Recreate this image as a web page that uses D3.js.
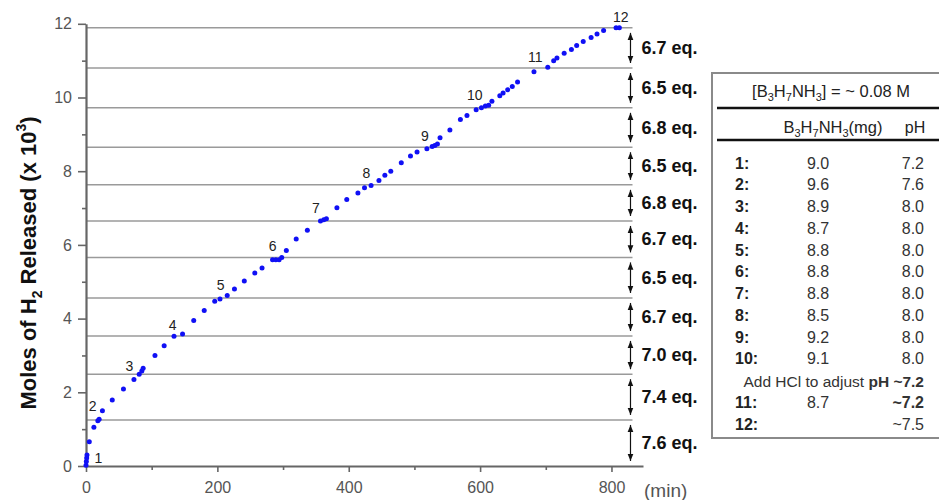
<!DOCTYPE html>
<html lang="en">
<head>
<meta charset="utf-8">
<title>H2 release</title>
<script src="https://cdnjs.cloudflare.com/ajax/libs/d3/7.8.5/d3.min.js"></script>
<style>
  body { margin: 0; background: #fff; }
  svg { font-family: Arial, "Liberation Sans", sans-serif; }
</style>
</head>
<body>
<div id="chart"></div>
<script>
// data
const times = [0, 0.5, 1, 1.5, 5, 12, 18, 20, 25, 40, 57, 73, 81, 85, 87, 105, 119, 134, 147, 164, 180, 196, 204, 215, 226, 241, 257, 268,
  284, 289, 294, 298, 305, 320, 337, 357, 362, 366, 382, 397, 414, 424, 434, 446, 455, 464, 480, 494, 504, 519, 527, 531, 535, 539,
  554, 570, 580, 594, 602, 608, 613, 618, 630, 635, 642, 649, 657, 682, 703, 712, 717, 728, 739, 747, 757, 769, 778, 788, 807, 812];
const moles = [0.02, 0.12, 0.22, 0.3, 0.66, 1.05, 1.23, 1.27, 1.5, 1.79, 2.09, 2.35, 2.49, 2.58, 2.65, 3.0, 3.26, 3.52, 3.58, 3.95, 4.22, 4.47, 4.53, 4.63, 4.8, 5.02, 5.24, 5.37,
  5.6, 5.6, 5.6, 5.66, 5.85, 6.16, 6.4, 6.65, 6.68, 6.71, 7.01, 7.23, 7.41, 7.55, 7.61, 7.75, 7.89, 8.0, 8.23, 8.41, 8.52, 8.61, 8.67, 8.7, 8.74, 8.91,
  9.12, 9.4, 9.51, 9.67, 9.72, 9.77, 9.79, 9.9, 10.05, 10.12, 10.21, 10.3, 10.42, 10.7, 10.82, 11.0, 11.07, 11.2, 11.3, 11.41, 11.52, 11.63, 11.72, 11.82, 11.89, 11.89];

// injection numbers placed near the curve
const injNames = ["1", "2", "3", "4", "5", "6", "7", "8", "9", "10", "11", "12"];
const injT = [19, 10, 66, 132, 205, 284, 350, 427, 516, 592, 684, 814];
const injV = [0.21, 1.64, 2.72, 3.83, 4.91, 5.97, 6.99, 7.94, 8.96, 10.07, 11.11, 12.19];

// horizontal levels and equivalents between them
const levels = [0, 1.25, 2.49, 3.53, 4.56, 5.66, 6.65, 7.63, 8.65, 9.72, 10.8, 11.89];
const eqLabels = ["7.6", "7.4", "7.0", "6.7", "6.5", "6.7", "6.8", "6.5", "6.8", "6.5", "6.7"];

const xTicks = [0, 200, 400, 600, 800];
const xMinor = [100, 300, 500, 700];
const yTicks = [0, 2, 4, 6, 8, 10, 12];
const yMinor = [1, 3, 5, 7, 9, 11];

// table
const runs = ["1:", "2:", "3:", "4:", "5:", "6:", "7:", "8:", "9:", "10:", "11:", "12:"];
const mg = ["9.0", "9.6", "8.9", "8.7", "8.8", "8.8", "8.8", "8.5", "9.2", "9.1", "8.7", ""];
const ph = ["7.2", "7.6", "8.0", "8.0", "8.0", "8.0", "8.0", "8.0", "8.0", "8.0", "~7.2", "~7.5"];

const width = 939, height = 500;
const svg = d3.select("#chart").append("svg")
  .attr("width", width).attr("height", height);

const x = d3.scaleLinear().domain([0, 848]).range([86, 643]);
const y = d3.scaleLinear().domain([0, 12]).range([466, 23.8]);
const gridEnd = 832;

// arrow heads
const defs = svg.append("defs");
defs.append("marker").attr("id", "head")
  .attr("viewBox", "0 0 10 10").attr("refX", 10).attr("refY", 5)
  .attr("markerWidth", 6).attr("markerHeight", 6).attr("orient", "auto-start-reverse")
  .append("path").attr("d", "M0,1 L10,5 L0,9 Z").attr("fill", "#111");

// grid lines at each level
svg.append("g").selectAll("line")
  .data(levels.slice(1))
  .join("line")
    .attr("x1", x(0)).attr("x2", x(gridEnd))
    .attr("y1", d => y(d)).attr("y2", d => y(d))
    .attr("stroke", "#9a9a9a").attr("stroke-width", 1.5);

// axes
svg.append("g").attr("transform", `translate(0,${y(0)})`)
  .call(d3.axisBottom(x).tickValues(xTicks).tickSize(6).tickSizeOuter(0).tickPadding(10));
svg.append("g").attr("transform", `translate(0,${y(0)})`)
  .call(d3.axisBottom(x).tickValues(xMinor).tickSize(4).tickSizeOuter(0).tickFormat(""))
  .select(".domain").remove();

svg.append("g").attr("transform", `translate(${x(0)},0)`)
  .call(d3.axisLeft(y).tickValues(yTicks).tickSize(8).tickSizeOuter(0).tickPadding(6));
svg.append("g").attr("transform", `translate(${x(0)},0)`)
  .call(d3.axisLeft(y).tickValues(yMinor).tickSize(4).tickSizeOuter(0).tickFormat(""))
  .select(".domain").remove();

svg.selectAll(".domain").attr("stroke", "#666").attr("stroke-width", 2.2);
svg.selectAll(".tick line").attr("stroke", "#666").attr("stroke-width", 1.6);
svg.selectAll(".tick text").attr("fill", "#555").style("font-size", "16px");

svg.append("text")
  .attr("x", 644).attr("y", y(0) + 31)
  .attr("fill", "#555").style("font-size", "19px")
  .text("(min)");

// y title
const yt = svg.append("text")
  .attr("transform", "translate(36,263) rotate(-90)")
  .attr("text-anchor", "middle")
  .style("font-size", "22px").style("font-weight", "bold").attr("fill", "#111");
yt.append("tspan").text("Moles of H");
yt.append("tspan").attr("dy", 6).style("font-size", "14px").text("2");
yt.append("tspan").attr("dy", -6).text(" Released (x 10");
yt.append("tspan").attr("dy", -10).style("font-size", "14px").text("3");
yt.append("tspan").attr("dy", 10).text(")");

// points
svg.append("g").selectAll("circle")
  .data(times.map((t, i) => ({ t: t, v: moles[i] })))
  .join("circle")
    .attr("cx", d => x(d.t)).attr("cy", d => y(d.v))
    .attr("r", 2.5).attr("fill", "#1010f5");

// injection numbers
svg.append("g").selectAll("text")
  .data(injNames)
  .join("text")
    .attr("x", (d, i) => x(injT[i])).attr("y", (d, i) => y(injV[i]))
    .attr("text-anchor", "middle").attr("dominant-baseline", "central")
    .style("font-size", "14px").attr("fill", "#222")
    .text(d => d);

// arrows + equivalents
const eq = svg.append("g").selectAll("g")
  .data(eqLabels)
  .join("g");
eq.append("line")
  .attr("x1", x(gridEnd) - 2).attr("x2", x(gridEnd) - 2)
  .attr("y1", (d, i) => y(levels[i]) - 5).attr("y2", (d, i) => y(levels[i + 1]) + 5)
  .attr("stroke", "#111").attr("stroke-width", 1.2)
  .attr("marker-start", "url(#head)").attr("marker-end", "url(#head)");
eq.append("text")
  .attr("x", x(gridEnd) + 9)
  .attr("y", (d, i) => (y(levels[i]) + y(levels[i + 1])) / 2)
  .attr("dominant-baseline", "central")
  .style("font-size", "18px").style("font-weight", "bold").attr("fill", "#111")
  .text(d => d + " eq.");

// table box
const tb = svg.append("g");
tb.append("rect")
  .attr("x", 712).attr("y", 73).attr("width", 240).attr("height", 365)
  .attr("fill", "#fff").attr("stroke", "#8a8a8a").attr("stroke-width", 2);

function formula(sel, tail) {
  sel.append("tspan").text("B");
  sel.append("tspan").attr("dy", 4).style("font-size", "11px").text("3");
  sel.append("tspan").attr("dy", -4).text("H");
  sel.append("tspan").attr("dy", 4).style("font-size", "11px").text("7");
  sel.append("tspan").attr("dy", -4).text("NH");
  sel.append("tspan").attr("dy", 4).style("font-size", "11px").text("3");
  sel.append("tspan").attr("dy", -4).text(tail);
}

const title = tb.append("text")
  .attr("x", 831).attr("y", 97).attr("text-anchor", "middle")
  .style("font-size", "16.5px").attr("fill", "#222");
title.append("tspan").text("[");
formula(title, "] = ~ 0.08 M");

tb.append("line").attr("x1", 717).attr("x2", 939).attr("y1", 108).attr("y2", 108)
  .attr("stroke", "#111").attr("stroke-width", 2.5);

const head = tb.append("text")
  .attr("x", 833).attr("y", 133).attr("text-anchor", "middle")
  .style("font-size", "16.5px").attr("fill", "#222");
formula(head, "(mg)");
tb.append("text").attr("x", 915).attr("y", 133).attr("text-anchor", "middle")
  .style("font-size", "16px").attr("fill", "#222").text("pH");

tb.append("line").attr("x1", 717).attr("x2", 939).attr("y1", 140).attr("y2", 140)
  .attr("stroke", "#111").attr("stroke-width", 2.5);

const rowY = d3.scalePoint().domain(d3.range(13)).range([163, 424]);
const rowIdx = runs.map((r, i) => i < 10 ? i : i + 1);

const rows = tb.append("g").selectAll("g")
  .data(runs)
  .join("g")
    .attr("transform", (d, i) => `translate(0,${rowY(rowIdx[i])})`);
rows.append("text").attr("x", 735).attr("dominant-baseline", "central")
  .style("font-size", "16px").style("font-weight", "bold").attr("fill", "#222")
  .text(d => d);
rows.append("text").attr("x", 818).attr("text-anchor", "middle").attr("dominant-baseline", "central")
  .style("font-size", "16px").attr("fill", "#333")
  .text((d, i) => mg[i]);
rows.append("text").attr("x", 924).attr("text-anchor", "end").attr("dominant-baseline", "central")
  .style("font-size", "16px").attr("fill", "#333")
  .style("font-weight", (d, i) => i === 10 ? "bold" : "normal")
  .text((d, i) => ph[i]);

const note = tb.append("text")
  .attr("x", 924).attr("y", rowY(10)).attr("text-anchor", "end").attr("dominant-baseline", "central")
  .style("font-size", "15.5px").attr("fill", "#333");
note.append("tspan").text("Add HCl to adjust ");
note.append("tspan").style("font-weight", "bold").text("pH ~7.2");
</script>
</body>
</html>
